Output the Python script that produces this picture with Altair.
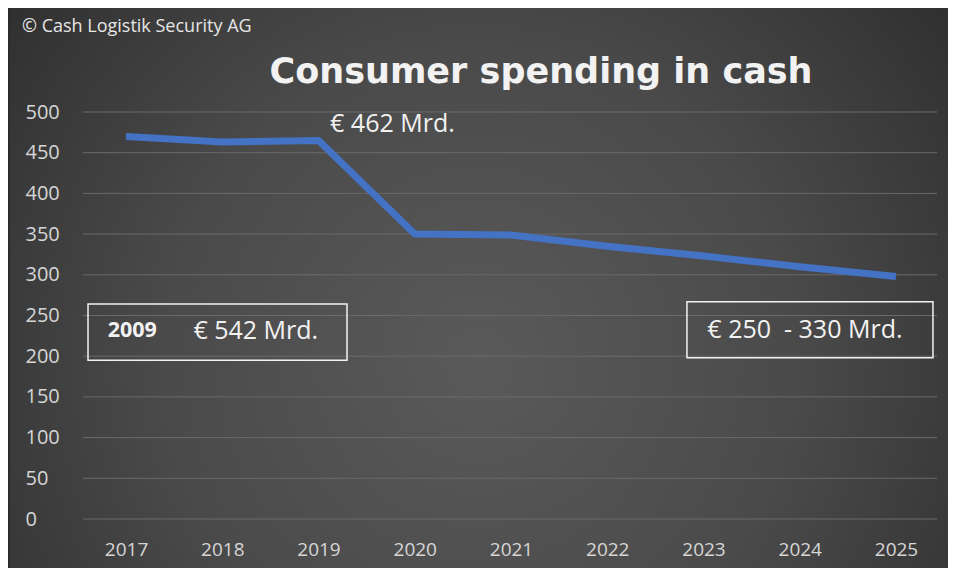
import altair as alt
import pandas as pd

# ---- data ----
years = [2017, 2018, 2019, 2020, 2021, 2022, 2023, 2024, 2025]
values = [470, 463, 465, 350, 349, 335, 323, 310, 298]
grid_values = [0, 50, 100, 150, 200, 250, 300, 350, 400, 450, 500]

title_text = "Consumer spending in cash"
copyright_text = "© Cash Logistik Security AG"

# annotation texts (positions in data space)
ann_text = ["€ 462 Mrd.", "€ 542 Mrd.", "€ 250\u00a0\u00a0- 330 Mrd."]
ann_x = [2019.12, 2017.70, 2023.04]
ann_y = [485, 231, 232]

bold_text = ["2009"]
bold_x = [2016.81]
bold_y = [231]

box_x = [2016.605, 2022.828]
box_x2 = [2019.296, 2025.384]
box_y = [195, 198]
box_y2 = [264, 267]

FONT = "Open Sans"
W, H = 854, 407

line_df = pd.DataFrame({"year": years, "value": values})
grid_df = pd.DataFrame({"v": grid_values})
ann_df = pd.DataFrame({"t": ann_text, "x": ann_x, "y": ann_y})
bold_df = pd.DataFrame({"t": bold_text, "x": bold_x, "y": bold_y})
box_df = pd.DataFrame({"x": box_x, "x2": box_x2, "y": box_y, "y2": box_y2})
title_df = pd.DataFrame({"t": [title_text]})
copy_df = pd.DataFrame({"t": [copyright_text]})
bg_df = pd.DataFrame({"a": [1]})

xscale = alt.Scale(domain=[2016.553, 2025.426], nice=False, zero=False)
yscale = alt.Scale(domain=[0, 500], nice=False)

gradient = alt.RadialGradient(
    gradient="radial",
    x1=0.5, y1=0.58, r1=0,
    x2=0.5, y2=0.58, r2=0.75,
    stops=[
        alt.GradientStop(color="#5a5a5a", offset=0),
        alt.GradientStop(color="#4a4a4a", offset=0.45),
        alt.GradientStop(color="#252525", offset=1),
    ],
)

bg = alt.Chart(bg_df).mark_rect(color=gradient).encode(
    x=alt.value(-73), x2=alt.value(W + 11), y=alt.value(-104), y2=alt.value(H + 49)
)

grid = alt.Chart(grid_df).mark_rule(color="#6a6a6a", strokeWidth=1).encode(
    y=alt.Y("v:Q", scale=yscale,
            axis=alt.Axis(values=grid_values, grid=False, domain=False, ticks=False,
                          tickSize=0, labelAlign="left", labelPadding=58,
                          labelColor="#d6d6d6", labelFont=FONT, labelFontSize=20,
                          title=None, zindex=1))
)

line = alt.Chart(line_df).mark_line(color="#4472C4", strokeWidth=7, strokeJoin="miter").encode(
    x=alt.X("year:Q", scale=xscale,
            axis=alt.Axis(values=years, format="d", grid=False, domain=False, ticks=False,
                          tickSize=0, labelPadding=30, labelBaseline="middle",
                          labelColor="#d6d6d6", labelFont=FONT, labelFontSize=19,
                          title=None, zindex=1)),
    y=alt.Y("value:Q", scale=yscale),
)

boxes = alt.Chart(box_df).mark_rect(fill="transparent", stroke="#f2f2f2", strokeWidth=1.5).encode(
    x=alt.X("x:Q", scale=xscale), x2="x2:Q",
    y=alt.Y("y:Q", scale=yscale), y2="y2:Q",
)

ann = alt.Chart(ann_df).mark_text(
    align="left", baseline="middle", font=FONT, fontSize=25, color="#f2f2f2"
).encode(x=alt.X("x:Q", scale=xscale), y=alt.Y("y:Q", scale=yscale), text="t:N")

bold = alt.Chart(bold_df).mark_text(
    align="left", baseline="middle", font=FONT, fontSize=21.5, fontWeight="bold", color="#f2f2f2"
).encode(x=alt.X("x:Q", scale=xscale), y=alt.Y("y:Q", scale=yscale), text="t:N")

title = alt.Chart(title_df).mark_text(
    align="center", baseline="middle", font="DejaVu Sans", fontSize=35, fontWeight="bold",
    color="#f2f2f2"
).encode(x=alt.value(458), y=alt.value(-40), text="t:N")

copyright = alt.Chart(copy_df).mark_text(
    align="left", baseline="middle", font=FONT, fontSize=18, color="#e6e6e6"
).encode(x=alt.value(-61), y=alt.value(-85), text="t:N")

chart = alt.layer(bg, grid, line, boxes, ann, bold, title, copyright).properties(
    width=W, height=H,
    padding={"left": 75, "top": 104, "right": 11, "bottom": 49},
    autosize=alt.AutoSizeParams(type="none"),
    background="#2b2b2b",
).configure_view(strokeOpacity=0)

chart.save("out.html", embed_options={"renderer": "svg", "actions": False})
